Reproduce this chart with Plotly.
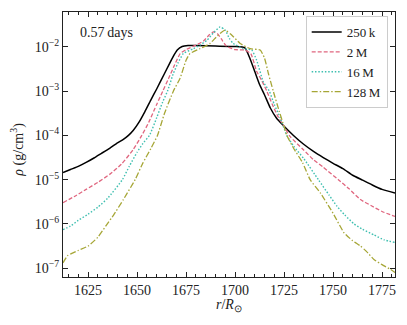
import plotly.graph_objects as go

# ---- data (radius in R_sun, log10 density in g/cm^3) ----
r_250k = [1612.2, 1616, 1620, 1624, 1628, 1632, 1636, 1640, 1643, 1645.6, 1648, 1651, 1654, 1657, 1660, 1664, 1668,
          1670.5, 1673, 1676, 1680, 1690, 1700, 1705, 1707.5, 1710, 1712.5, 1715, 1718, 1721, 1724.5, 1729.8,
          1735, 1740, 1745, 1750, 1755, 1760, 1765, 1770, 1775, 1781.6]
logrho_250k = [-4.84, -4.77, -4.70, -4.61, -4.51, -4.40, -4.29, -4.17, -4.09, -4.0, -3.89, -3.70, -3.46, -3.2,
               -2.95, -2.6, -2.25, -2.07, -1.99, -1.97, -1.97, -1.98, -1.99, -2.02, -2.25, -2.55, -2.85, -3.08,
               -3.38, -3.6, -3.77, -4.0, -4.2, -4.36, -4.50, -4.63, -4.75, -4.90, -5.01, -5.12, -5.22, -5.30]

r_2M = [1612.2, 1618, 1624, 1630, 1636, 1642, 1648, 1652.4, 1656, 1660, 1663.1, 1666, 1669, 1672, 1675, 1680,
        1684, 1687, 1689, 1691, 1693, 1695.5, 1700, 1705, 1708, 1711, 1713.5, 1716.2, 1719, 1722, 1725, 1728,
        1735, 1740, 1745, 1752.7, 1758, 1764, 1770, 1775, 1781.6]
logrho_2M = [-5.52, -5.38, -5.22, -5.06, -4.88, -4.65, -4.32, -4.0, -3.7, -3.3, -3.0, -2.72, -2.42, -2.15, -2.06,
             -1.96, -1.86, -1.72, -1.66, -1.70, -1.82, -1.98, -2.06, -2.07, -2.15, -2.55, -2.75, -3.0, -3.3,
             -3.58, -3.8, -4.02, -4.33, -4.55, -4.72, -5.0, -5.2, -5.45, -5.6, -5.72, -5.83]

r_16M = [1612.2, 1616, 1620, 1625, 1630, 1635, 1642.5, 1646, 1650, 1653, 1656.3, 1660, 1663, 1665.5, 1668.5,
         1671, 1673.6, 1678.7, 1682, 1685.6, 1689, 1692.3, 1695, 1697, 1699, 1704.2, 1708.5, 1711, 1714.5,
         1717.5, 1720, 1723, 1726.4, 1730, 1735, 1742.5, 1748, 1752, 1756, 1760.7, 1765, 1770.9, 1776, 1781.6]
logrho_16M = [-6.13, -6.05, -5.92, -5.78, -5.62, -5.42, -5.0, -4.7, -4.38, -4.18, -4.0, -3.6, -3.25, -3.0, -2.6,
              -2.35, -2.15, -2.04, -1.96, -1.85, -1.68, -1.55, -1.62, -1.80, -1.92, -2.04, -2.07, -2.3, -2.8,
              -3.0, -3.3, -3.6, -4.0, -4.25, -4.52, -5.0, -5.35, -5.6, -5.8, -6.0, -6.12, -6.25, -6.36, -6.42]

r_128M = [1612.2, 1614.5, 1617, 1620, 1625, 1630, 1634, 1638, 1643, 1649, 1653, 1657, 1660.4, 1664, 1668.5,
          1672, 1675, 1677, 1682, 1687.2, 1691, 1694.9, 1698, 1702.6, 1707.7, 1712.8, 1715, 1717, 1719.5,
          1722.5, 1725, 1726.4, 1730, 1734.5, 1738.3, 1743.5, 1750, 1755.6, 1760, 1764, 1767, 1771, 1775,
          1779.4, 1781.6]
logrho_128M = [-6.88, -6.72, -6.66, -6.60, -6.5, -6.3, -6.05, -5.8, -5.45, -5.0, -4.62, -4.3, -4.0, -3.5, -3.0,
               -2.7, -2.3, -2.15, -2.04, -1.92, -1.75, -1.62, -1.72, -1.92, -2.04, -2.07, -2.25, -2.6, -3.0,
               -3.45, -3.8, -4.0, -4.3, -4.62, -5.0, -5.3, -5.76, -6.2, -6.38, -6.5, -6.62, -6.81, -6.92,
               -7.03, -7.1]

series_names = ["250\u2009k", "2\u2009M", "16\u2009M", "128\u2009M"]
x_ticks = [1625, 1650, 1675, 1700, 1725, 1750, 1775]
y_tick_exps = [-7, -6, -5, -4, -3, -2]
time_label = "0.57\u2009days"
x_title = "<i>r</i>/<i>R</i><sub>\u2299</sub>"
y_title = "<i>\u03c1</i> (g/cm<sup>3</sup>)"

colors = ["#000000", "#E0667F", "#3FBFB0", "#A6A636"]
dashes = ["solid", "4px,2px", "1.5px,1.8px", "6px,2px,1.5px,2px"]
widths = [1.5, 1.3, 1.4, 1.3]

FONT = "Liberation Serif"
INK = "#222222"

fig = go.Figure()
for name, xs, ls, c, d, w in zip(series_names,
                                 [r_250k, r_2M, r_16M, r_128M],
                                 [logrho_250k, logrho_2M, logrho_16M, logrho_128M],
                                 colors, dashes, widths):
    fig.add_trace(go.Scatter(x=xs, y=[10 ** v for v in ls], mode="lines", name=name,
                             line=dict(color=c, dash=d, width=w, shape="spline", smoothing=0.5)))

axis_common = dict(showline=True, linecolor=INK, linewidth=1.2, mirror="allticks",
                   ticks="inside", tickcolor=INK, ticklen=5, tickwidth=1,
                   showgrid=False, zeroline=False, automargin=False,
                   tickfont=dict(family=FONT, size=14, color=INK))

# The page body adds an 8px margin; the figure is sized so the plot lands where the reference's does.
fig.update_layout(
    width=399, height=317,
    margin=dict(l=55, r=12, t=4, b=48),
    paper_bgcolor="white", plot_bgcolor="white",
    font=dict(family=FONT, size=14, color=INK),
    showlegend=True,
    legend=dict(x=0.731, y=0.985, xanchor="left", yanchor="top",
                bordercolor="#cccccc", borderwidth=1, bgcolor="white",
                font=dict(family=FONT, size=13), tracegroupgap=0,
                itemwidth=30),
    xaxis=dict(range=[1612.2, 1781.6], tickvals=x_ticks, ticktext=[str(t) for t in x_ticks],
               minor=dict(dtick=5, tick0=1600, ticks="inside", ticklen=3, tickcolor=INK),
               **axis_common),
    yaxis=dict(type="log", range=[-7.2, -1.21], tickvals=[10 ** e for e in y_tick_exps],
               ticktext=["10<sup>\u2212%d</sup>" % (-e) for e in y_tick_exps],
               **axis_common),
    annotations=[
        dict(text=time_label, xref="paper", yref="paper", x=0.045, y=0.921,
             xanchor="left", yanchor="middle", showarrow=False,
             font=dict(family=FONT, size=14, color=INK)),
        dict(text=x_title, xref="paper", yref="paper", x=0.5, y=-0.106,
             xanchor="center", yanchor="middle", showarrow=False,
             font=dict(family=FONT, size=14, color=INK)),
        dict(text=y_title, xref="paper", yref="paper", x=-0.136, y=0.48,
             xanchor="center", yanchor="middle", showarrow=False, textangle=-90,
             font=dict(family=FONT, size=14, color=INK)),
    ],
)

fig.write_html("out.html")
